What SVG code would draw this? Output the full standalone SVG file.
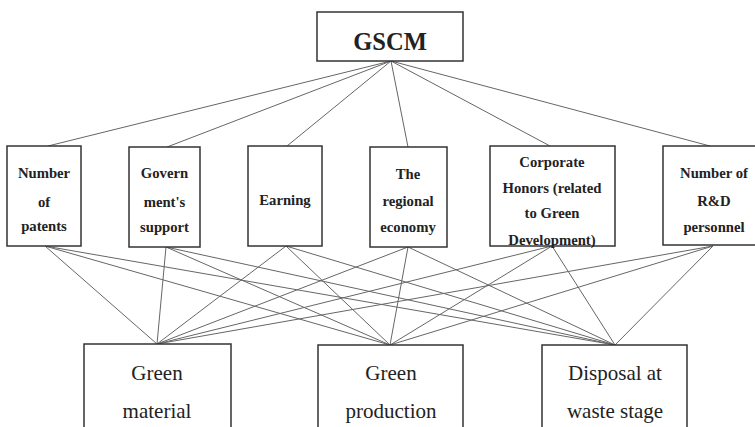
<svg xmlns="http://www.w3.org/2000/svg" width="755" height="427" viewBox="0 0 755 427">
<style>
.box{fill:#fff;stroke:#333;stroke-width:1.5}
.ln{stroke:#666;stroke-width:1;fill:none}
.top{font-family:"Liberation Serif",serif;font-weight:bold;font-size:24.5px;fill:#222;text-anchor:middle}
.mid{font-family:"Liberation Serif",serif;font-weight:bold;font-size:14.7px;fill:#222;text-anchor:middle}
.bot{font-family:"Liberation Serif",serif;font-size:21px;fill:#222;text-anchor:middle}
</style>
<rect width="755" height="427" fill="#fff"/>
<g id="connectors">
<path class="ln" d="M391 61L48 146M391 61L167 147M391 61L287 146M391 61L408 147M391 61L550 146M391 61L710 146"/>
<path class="ln" d="M45 246L157 344M45 246L390 345M45 246L615 345"/>
<path class="ln" d="M166 247L157 344M166 247L390 345M166 247L615 345"/>
<path class="ln" d="M286 246L157 344M286 246L390 345M286 246L615 345"/>
<path class="ln" d="M408 247L157 344M408 247L390 345M408 247L615 345"/>
<path class="ln" d="M552 246L157 344M552 246L390 345M552 246L615 345"/>
<path class="ln" d="M713 246L157 344M713 246L390 345M713 246L615 345"/>
</g>
<g id="gscm"><rect class="box" x="317" y="12" width="146" height="49"/><text class="top" x="390" y="50">GSCM</text></g>
<g id="patents"><rect class="box" x="7" y="146" width="74" height="100"/>
<text class="mid" x="44" y="178">Number</text><text class="mid" x="44" y="207">of</text><text class="mid" x="44" y="231">patents</text></g>
<g id="support"><rect class="box" x="129" y="147" width="71" height="100"/>
<text class="mid" x="164.5" y="178">Govern</text><text class="mid" x="164.5" y="207">ment's</text><text class="mid" x="164.5" y="232">support</text></g>
<g id="earning"><rect class="box" x="248" y="146" width="74" height="100"/>
<text class="mid" x="285" y="205">Earning</text></g>
<g id="economy"><rect class="box" x="370" y="147" width="77" height="100"/>
<text class="mid" x="408" y="179">The</text><text class="mid" x="408" y="206">regional</text><text class="mid" x="408" y="232">economy</text></g>
<g id="honors"><rect class="box" x="490" y="146" width="125" height="100"/>
<text class="mid" x="552" y="167">Corporate</text><text class="mid" x="552" y="193">Honors (related</text><text class="mid" x="552" y="218">to Green</text><text class="mid" x="552" y="245">Development)</text></g>
<g id="rd"><rect class="box" x="663" y="146" width="102" height="99"/>
<text class="mid" x="714" y="178">Number of</text><text class="mid" x="714" y="206">R&amp;D</text><text class="mid" x="714" y="232">personnel</text></g>
<g id="material"><rect class="box" x="84" y="344" width="147" height="100"/>
<text class="bot" x="157" y="380">Green</text><text class="bot" x="157" y="418">material</text></g>
<g id="production"><rect class="box" x="318" y="345" width="145" height="100"/>
<text class="bot" x="391" y="380">Green</text><text class="bot" x="391" y="418">production</text></g>
<g id="disposal"><rect class="box" x="542" y="345" width="145" height="100"/>
<text class="bot" x="615" y="380">Disposal at</text><text class="bot" x="615" y="418">waste stage</text></g>
</svg>
